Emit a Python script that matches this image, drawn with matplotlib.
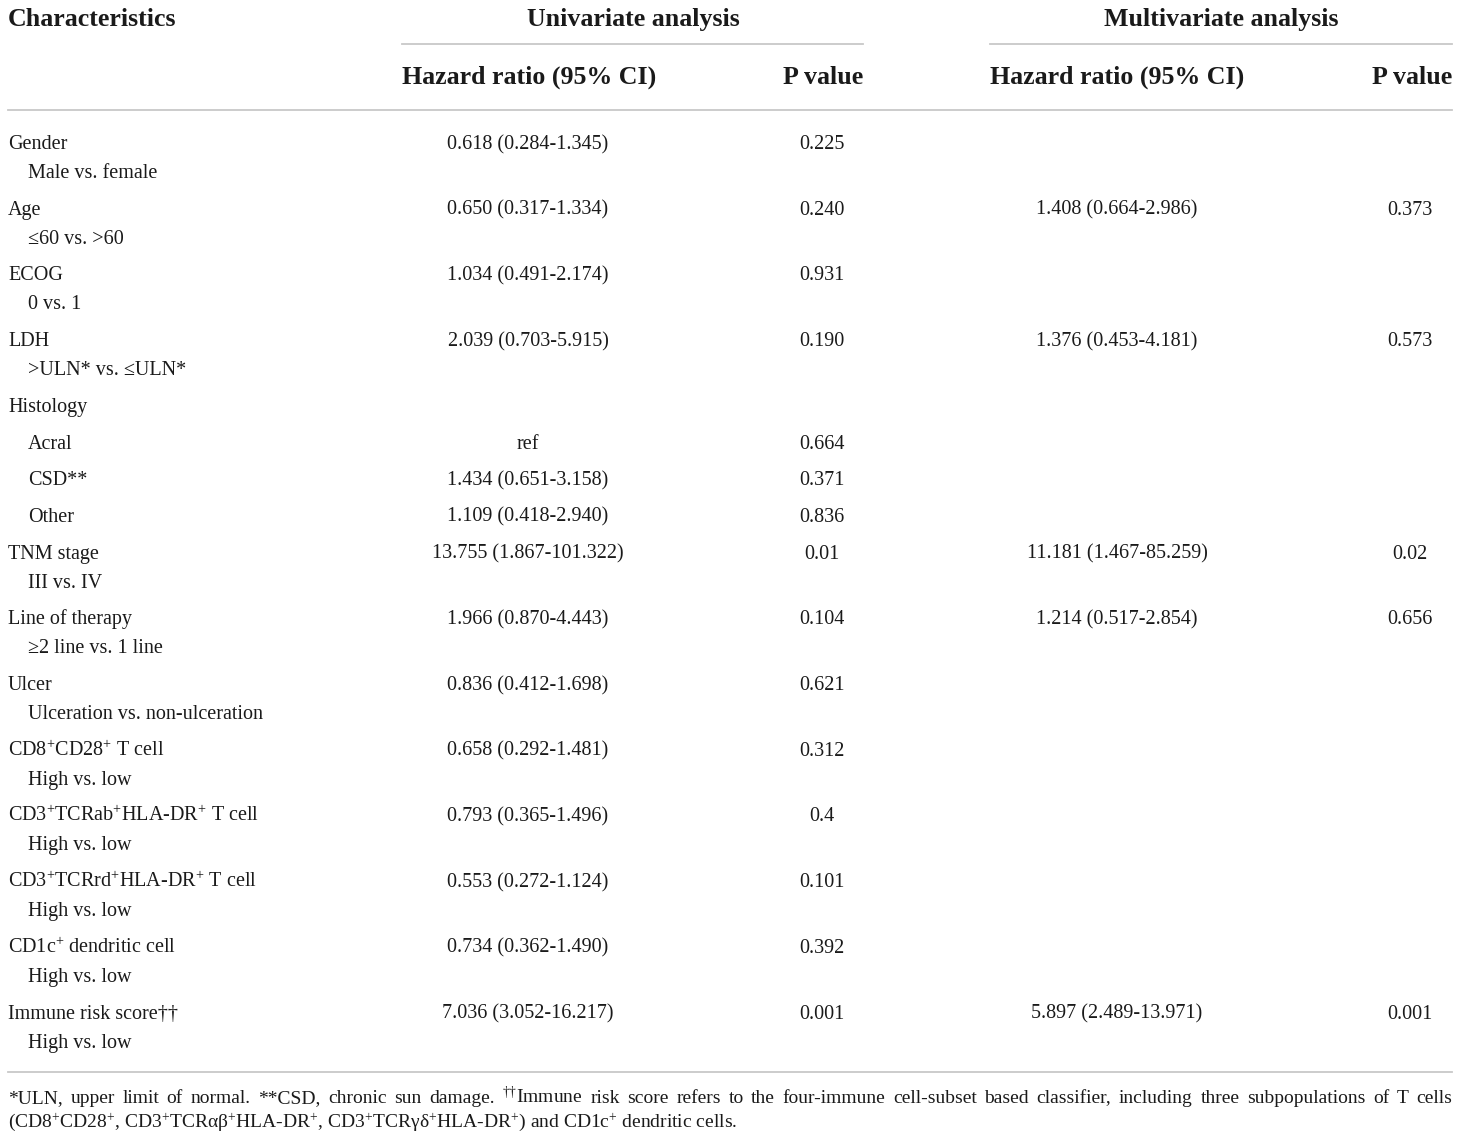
import matplotlib
matplotlib.use("Agg")
import matplotlib.pyplot as plt

plt.rcParams['font.family'] = ['Liberation Serif', 'DejaVu Serif']
plt.rcParams['mathtext.fontset'] = 'custom'
plt.rcParams['mathtext.rm'] = 'Liberation Serif'
plt.rcParams['mathtext.it'] = 'Liberation Serif:italic'
plt.rcParams['mathtext.bf'] = 'Liberation Serif:bold'

SUP = r'$^{\mathregular{+}}$'

# table rows: label, is_sub_line (no values, indented), indented, values
labels = ["Gender", "Male vs. female",
          "Age", "≤60 vs. >60",
          "ECOG", "0 vs. 1",
          "LDH", ">ULN* vs. ≤ULN*",
          "Histology", "Acral", "CSD**", "Other",
          "TNM stage", "III vs. IV",
          "Line of therapy", "≥2 line vs. 1 line",
          "Ulcer", "Ulceration vs. non-ulceration",
          "CD8" + SUP + "CD28" + SUP + " T cell", "High vs. low",
          "CD3" + SUP + "TCRab" + SUP + "HLA-DR" + SUP + " T cell", "High vs. low",
          "CD3" + SUP + "TCRrd" + SUP + "HLA-DR" + SUP + " T cell", "High vs. low",
          "CD1c" + SUP + " dendritic cell", "High vs. low",
          "Immune risk score††", "High vs. low"]
sub_line = [0, 1, 0, 1, 0, 1, 0, 1, 0, 0, 0, 0, 0, 1, 0, 1, 0, 1, 0, 1, 0, 1, 0, 1, 0, 1, 0, 1]
indented = [0, 1, 0, 1, 0, 1, 0, 1, 0, 1, 1, 1, 0, 1, 0, 1, 0, 1, 0, 1, 0, 1, 0, 1, 0, 1, 0, 1]
uni_hr = ["0.618 (0.284-1.345)", "", "0.650 (0.317-1.334)", "", "1.034 (0.491-2.174)", "",
          "2.039 (0.703-5.915)", "", "", "ref", "1.434 (0.651-3.158)", "1.109 (0.418-2.940)",
          "13.755 (1.867-101.322)", "", "1.966 (0.870-4.443)", "", "0.836 (0.412-1.698)", "",
          "0.658 (0.292-1.481)", "", "0.793 (0.365-1.496)", "", "0.553 (0.272-1.124)", "",
          "0.734 (0.362-1.490)", "", "7.036 (3.052-16.217)", ""]
uni_p = ["0.225", "", "0.240", "", "0.931", "", "0.190", "", "", "0.664", "0.371", "0.836",
         "0.01", "", "0.104", "", "0.621", "", "0.312", "", "0.4", "", "0.101", "",
         "0.392", "", "0.001", ""]
multi_hr = ["", "", "1.408 (0.664-2.986)", "", "", "", "1.376 (0.453-4.181)", "", "", "", "", "",
            "11.181 (1.467-85.259)", "", "1.214 (0.517-2.854)", "", "", "", "", "", "", "", "", "",
            "", "", "5.897 (2.489-13.971)", ""]
multi_p = ["", "", "0.373", "", "", "", "0.573", "", "", "", "", "",
           "0.02", "", "0.656", "", "", "", "", "", "", "", "", "",
           "", "", "0.001", ""]

footnote1 = ("*ULN, upper limit of normal. **CSD, chronic sun damage. " + r"$^{\mathregular{††}}$"
             + "Immune risk score refers to the four-immune cell-subset based classifier, "
             "including three subpopulations of T cells")
footnote2 = ("(CD8" + SUP + "CD28" + SUP + ", CD3" + SUP + "TCRαβ" + SUP + "HLA-DR" + SUP
             + ", CD3" + SUP + "TCRγδ" + SUP + "HLA-DR" + SUP + ") and CD1c" + SUP
             + " dendritic cells.")

W, H = 1460, 1138
fig = plt.figure(figsize=(W / 100, H / 100), dpi=100)
ax = fig.add_axes([0, 0, 1, 1])
ax.set_xlim(0, W)
ax.set_ylim(H, 0)
ax.axis('off')

line_col = '#c8c8c8'
txt = '#1a1a1a'
hsize = 18.6
bsize = 14.5
fsize = 14
base = 7  # offset from row centre to text baseline

# headers
ax.text(8, 18 + 8, "Characteristics", fontsize=hsize, fontweight='bold', ha='left', va='baseline', color=txt)
ax.text(633, 18 + 8, "Univariate analysis", fontsize=hsize, fontweight='bold', ha='center', va='baseline', color=txt)
ax.text(1221, 18 + 8, "Multivariate analysis", fontsize=hsize, fontweight='bold', ha='center', va='baseline', color=txt)
ax.plot([402, 863], [44, 44], color=line_col, lw=1.3)
ax.plot([990, 1452], [44, 44], color=line_col, lw=1.3)
ax.text(402, 76 + 8, "Hazard ratio (95% CI)", fontsize=hsize, fontweight='bold', ha='left', va='baseline', color=txt)
ax.text(863, 76 + 8, "P value", fontsize=hsize, fontweight='bold', ha='right', va='baseline', color=txt)
ax.text(990, 76 + 8, "Hazard ratio (95% CI)", fontsize=hsize, fontweight='bold', ha='left', va='baseline', color=txt)
ax.text(1452, 76 + 8, "P value", fontsize=hsize, fontweight='bold', ha='right', va='baseline', color=txt)
ax.plot([8, 1452], [110, 110], color=line_col, lw=1.3)

# body
y = 142
for i, lab in enumerate(labels):
    if i > 0:
        y += 29 if sub_line[i] else 36.7
    x = 28 if indented[i] else 8
    yb = y + base
    ax.text(x, yb, lab, fontsize=bsize, ha='left', va='baseline', color=txt)
    ax.text(528, yb, uni_hr[i], fontsize=bsize, ha='center', va='baseline', color=txt)
    ax.text(822, yb, uni_p[i], fontsize=bsize, ha='center', va='baseline', color=txt)
    ax.text(1117, yb, multi_hr[i], fontsize=bsize, ha='center', va='baseline', color=txt)
    ax.text(1410, yb, multi_p[i], fontsize=bsize, ha='center', va='baseline', color=txt)

ax.plot([8, 1452], [1072, 1072], color=line_col, lw=1.3)

# footnote: first line justified to the table width
renderer = fig.canvas.get_renderer()
words = footnote1.split(" ")
objs = [ax.text(0, 1096 + base, w, fontsize=fsize, ha='left', va='baseline', color=txt) for w in words]
widths = [o.get_window_extent(renderer).width for o in objs]
gap = (1452 - 8 - sum(widths)) / (len(words) - 1)
xpos = 8
for o, w in zip(objs, widths):
    o.set_x(xpos)
    xpos += w + gap
ax.text(8, 1120 + base, footnote2, fontsize=fsize, ha='left', va='baseline', color=txt)

fig.savefig("out.png", dpi=100, facecolor='white')
